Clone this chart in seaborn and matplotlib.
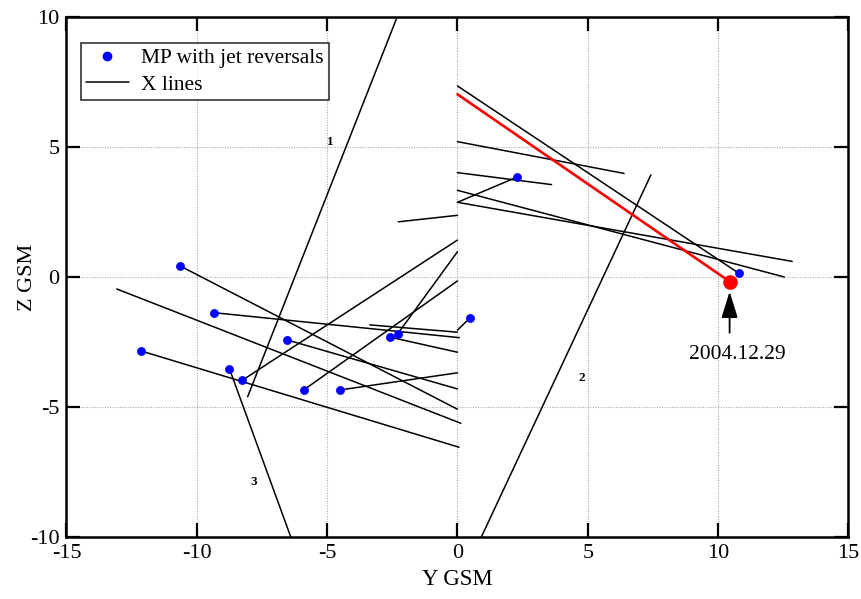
import numpy as np
import pandas as pd
import matplotlib
matplotlib.use("Agg")
import matplotlib.pyplot as plt
from matplotlib.lines import Line2D
import seaborn as sns

# Magnetopause crossings with jet reversals (Y, Z in GSM, Re)
mp_y = [-10.63, -9.35, -6.53, -2.59, -4.51, -12.14, -8.26, -5.90, -2.29, -8.75, 0.49, 2.29, 10.80]
mp_z = [0.42, -1.37, -2.42, -2.31, -4.34, -2.84, -3.97, -4.34, -2.18, -3.52, -1.56, 3.84, 0.14]

# X-line segments: start (y1, z1) and end (y2, z2)
xl_y1 = [-2.31, 7.42, -8.75, -10.63, -9.35, -3.36, 0.49, -6.53, -2.59, -4.51, -13.07,
         -12.14, -8.26, -5.90, -2.29, -2.27, 0.00, 0.00, 0.00, 0.00, 0.00, 0.00]
xl_z1 = [10.00, 3.92, -3.52, 0.42, -1.37, -1.84, -1.56, -2.42, -2.31, -4.34, -0.46,
         -2.84, -3.97, -4.34, -2.18, 2.12, 7.34, 5.20, 4.01, 2.87, 3.33, 2.87]
xl_y2 = [-8.05, 0.91, -6.39, 0.00, 0.07, 0.00, 0.00, 0.00, 0.00, 0.00, 0.13,
         0.06, 0.00, 0.00, 0.00, 0.00, 10.80, 6.39, 3.61, 2.29, 12.54, 12.84]
xl_z2 = [-4.60, -10.00, -10.00, -5.08, -2.33, -2.12, -2.04, -4.30, -2.89, -3.68, -5.62,
         -6.54, 1.42, -0.15, 0.97, 2.37, 0.14, 3.98, 3.55, 3.84, 0.00, 0.60]

# Event of 2004.12.29
event_y = [0.00, 10.45]
event_z = [7.02, -0.18]
event_label = "2004.12.29"

# Numbered X lines
num_labels = ["1", "2", "3"]
num_y = [-4.89, 4.78, -7.83]
num_z = [5.20, -3.89, -7.89]

sns.set_theme(style="white")
plt.rcParams["font.family"] = ["Liberation Serif", "DejaVu Serif"]
plt.rcParams["axes.unicode_minus"] = False
plt.rcParams["text.color"] = "black"
plt.rcParams["axes.labelcolor"] = "black"
plt.rcParams["xtick.color"] = "black"
plt.rcParams["ytick.color"] = "black"

segs = pd.DataFrame({
    "seg": np.repeat(np.arange(len(xl_y1)), 2),
    "Y": np.ravel(np.column_stack([xl_y1, xl_y2])),
    "Z": np.ravel(np.column_stack([xl_z1, xl_z2])),
})
pts = pd.DataFrame({"Y": mp_y, "Z": mp_z})
ev = pd.DataFrame({"Y": event_y, "Z": event_z})

fig = plt.figure(figsize=(8.62, 5.99), dpi=100)
ax = fig.add_axes([0.0771, 0.1030, 0.9072, 0.8691])

sns.lineplot(data=segs, x="Y", y="Z", units="seg", estimator=None, sort=False,
             color="black", linewidth=1.1, ax=ax, legend=False)
sns.lineplot(data=ev, x="Y", y="Z", estimator=None, sort=False,
             color="red", linewidth=1.9, ax=ax, legend=False)
sns.scatterplot(data=pts, x="Y", y="Z", color="blue", s=34, edgecolor="blue",
                linewidth=0.5, ax=ax, zorder=4, legend=False)
ax.scatter([event_y[1]], [event_z[1]], s=90, color="red", zorder=5)

for lab, yy, zz in zip(num_labels, num_y, num_z):
    ax.text(yy, zz, lab, fontsize=9.5, fontweight="bold", ha="center", va="center")

ax.annotate("", xy=(10.44, -0.56), xytext=(10.44, -2.14),
            arrowprops=dict(arrowstyle="-|>,head_length=0.9,head_width=0.28",
                            color="black", lw=1.3, mutation_scale=18, shrinkA=0, shrinkB=0))
ax.text(10.72, -2.97, event_label, fontsize=15.5, ha="center", va="center")

ax.set_xlim(-15, 15)
ax.set_ylim(-10, 10)
ax.set_xticks([-15, -10, -5, 0, 5, 10, 15])
ax.set_yticks([-10, -5, 0, 5, 10])
ax.set_xlabel("Y GSM", fontsize=16.5, labelpad=4)
ax.set_ylabel("Z GSM", fontsize=16)
ax.yaxis.set_label_coords(-0.038, 0.5)
ax.tick_params(direction="in", length=10, width=1.6, labelsize=16,
               top=True, right=True, bottom=True, left=True, pad=5)
for sp in ax.spines.values():
    sp.set_linewidth(1.8)
    sp.set_color("black")
ax.grid(True, linestyle=(0, (1, 1.3)), color="#aaaaaa", linewidth=0.8)
ax.set_axisbelow(True)

handles = [
    Line2D([], [], marker="o", linestyle="none", color="blue", markersize=6),
    Line2D([], [], color="black", linewidth=1.1),
]
leg = ax.legend(handles, ["MP with jet reversals", "X lines"], loc="upper left",
                bbox_to_anchor=(0.018, 0.95), fontsize=15.5, frameon=True, fancybox=False,
                borderpad=0.25, handlelength=2.0, handletextpad=0.55, labelspacing=0.3,
                borderaxespad=0)
leg.get_frame().set_edgecolor("black")
leg.get_frame().set_linewidth(1.2)

fig.savefig("out.png", dpi=100)
